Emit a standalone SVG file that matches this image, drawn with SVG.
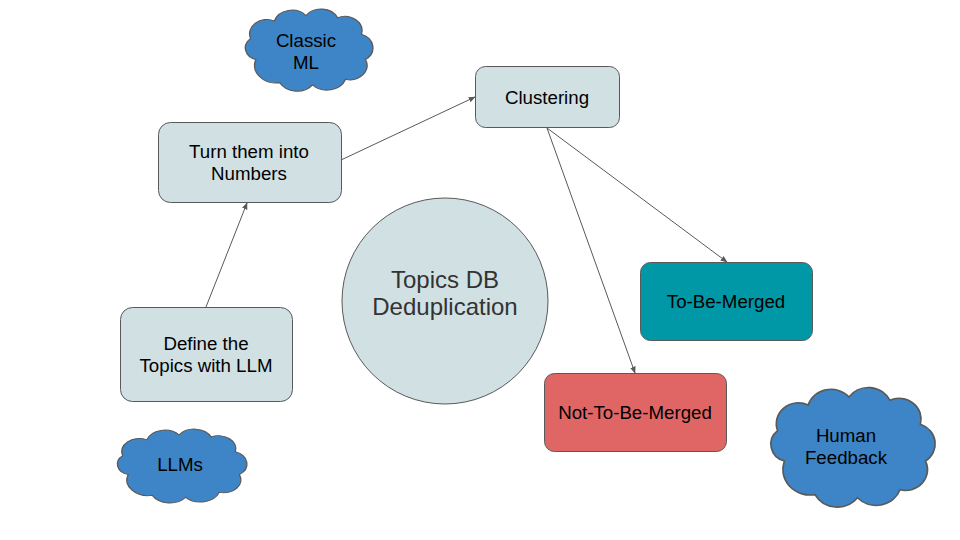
<svg xmlns="http://www.w3.org/2000/svg" width="960" height="540" viewBox="0 0 960 540">
  <defs>
    <marker id="arr" viewBox="0 0 10 10" refX="9" refY="5" markerWidth="7" markerHeight="7" markerUnits="userSpaceOnUse" orient="auto">
      <path d="M0,1 L10,5 L0,9 Z" fill="#595959"/>
    </marker>
    <path id="cloud" d="M12,45 A11,11 0 0 1 8,26 A13,13 0 0 1 26,10 A14,14 0 0 1 50,5 A14,14 0 0 1 74,7 A13,13 0 0 1 92,22 A13,13 0 0 1 95,45 A13,13 0 0 1 80,63 A15,15 0 0 1 55,68 A15,15 0 0 1 30,66 A16,16 0 0 1 12,45 Z"/>
  </defs>
  <style>
    text { font-family: "Liberation Sans", Arial, sans-serif; font-size: 18.7px; fill: #000; text-anchor: middle; }
    .box { fill: #d0e0e3; stroke: #595959; stroke-width: 1; }
    .cloud { fill: #3d85c6; stroke: #595959; stroke-width: 1; }
    .conn { stroke: #595959; stroke-width: 1; fill: none; marker-end: url(#arr); }
    .big { font-size: 24px; fill: #333; }
  </style>
  <rect width="960" height="540" fill="#fff"/>

  <g id="connectors">
    <line class="conn" x1="206" y1="307" x2="247" y2="203"/>
    <line class="conn" x1="341" y1="160" x2="475" y2="97"/>
    <line class="conn" x1="547" y1="128" x2="727" y2="262"/>
    <line class="conn" x1="547" y1="128" x2="635" y2="373"/>
  </g>

  <g id="classic-ml">
    <use href="#cloud" class="cloud" transform="translate(240,10) scale(1.32,1.1)" style="vector-effect:non-scaling-stroke"/>
    <text x="306" y="47">Classic</text>
    <text x="306" y="69">ML</text>
  </g>

  <g id="clustering">
    <rect class="box" x="475.5" y="66.5" width="144" height="61" rx="10"/>
    <text x="547" y="104">Clustering</text>
  </g>

  <g id="turn-numbers">
    <rect class="box" x="158.5" y="122.5" width="183" height="80" rx="12"/>
    <text x="249" y="158">Turn them into</text>
    <text x="249" y="180">Numbers</text>
  </g>

  <g id="define-topics">
    <rect class="box" x="120.5" y="307.5" width="172" height="94" rx="12"/>
    <text x="206" y="350">Define the</text>
    <text x="206" y="372">Topics with LLM</text>
  </g>

  <g id="topics-db">
    <circle class="box" cx="445" cy="301" r="103"/>
    <text class="big" x="445" y="288">Topics DB</text>
    <text class="big" x="445" y="315">Deduplication</text>
  </g>

  <g id="to-be-merged">
    <rect x="640.5" y="262.5" width="172" height="78" rx="10" fill="#0097a7" stroke="#595959"/>
    <text x="726" y="308">To-Be-Merged</text>
  </g>

  <g id="not-to-be-merged">
    <rect x="544.5" y="373.5" width="182" height="78" rx="10" fill="#e06666" stroke="#595959"/>
    <text x="635" y="419">Not-To-Be-Merged</text>
  </g>

  <g id="human-feedback">
    <use href="#cloud" class="cloud" transform="translate(764,389) scale(1.7,1.6)" style="vector-effect:non-scaling-stroke"/>
    <text x="846" y="442">Human</text>
    <text x="846" y="464">Feedback</text>
  </g>

  <g id="llms">
    <use href="#cloud" class="cloud" transform="translate(112,430) scale(1.34,0.99)" style="vector-effect:non-scaling-stroke"/>
    <text x="180" y="471">LLMs</text>
  </g>
</svg>
